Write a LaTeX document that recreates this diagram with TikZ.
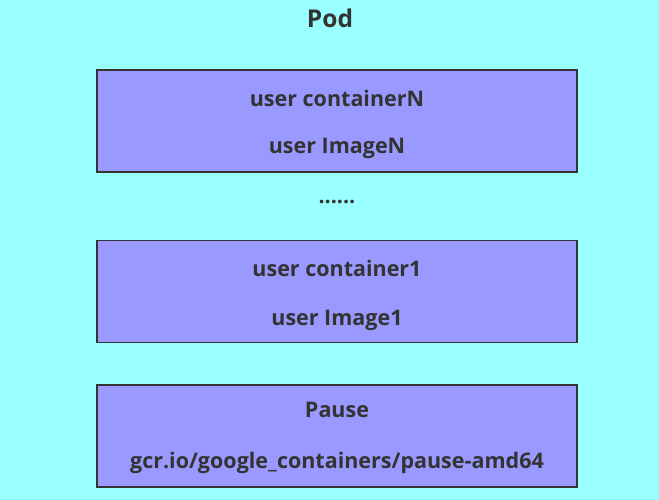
\documentclass[tikz,border=0pt]{standalone}
\usepackage{fontspec}
\setmainfont{Open Sans}
\definecolor{bgc}{HTML}{99FFFF}
\definecolor{boxc}{HTML}{9999FF}
\definecolor{txt}{HTML}{333333}
\begin{document}
\begin{tikzpicture}[x=1pt,y=-1pt,
  lay/.style={draw=txt,line width=1.8pt,fill=boxc},
  lbl/.style={text=txt,font=\bfseries\fontsize{21.5}{24}\selectfont,inner sep=0pt}]
\fill[bgc] (0,0) rectangle (659,500);
\useasboundingbox (0,0) rectangle (659,500);
\node[lbl,font=\bfseries\fontsize{24.5}{28}\selectfont] (pod) at (330,18) {Pod};
\node[lay,minimum width=480pt,minimum height=102pt,inner sep=0pt] (bN) at (337,121) {};
\node[lbl] (cN) at (337,98) {user containerN};
\node[lbl] (iN) at (337,148) {user ImageN};
\node[lbl] (dots) at (337,202) {......};
\node[lay,minimum width=480pt,minimum height=102pt,inner sep=0pt] (b1) at (337,291.5) {};
\node[lbl] (c1) at (337,268) {user container1};
\node[lbl] (i1) at (337,320) {user Image1};
\node[lay,minimum width=480pt,minimum height=102pt,inner sep=0pt] (bp) at (337,436) {};
\node[lbl] (p) at (337,410) {Pause};
\node[lbl] (g) at (337,463) {gcr.io/google\_containers/pause-amd64};
\end{tikzpicture}
\end{document}
